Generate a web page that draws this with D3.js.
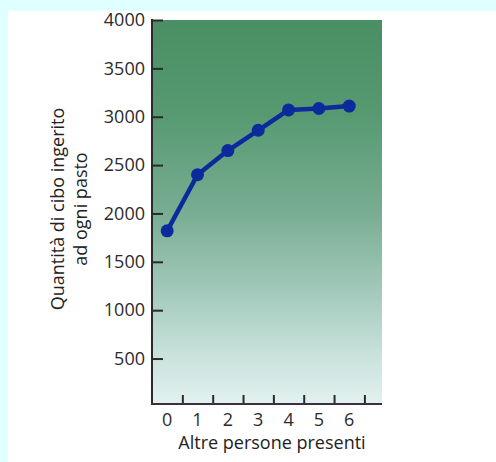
<!DOCTYPE html>
<html><head><meta charset="utf-8">
<script src="https://cdn.jsdelivr.net/npm/d3@7"></script>
<style>
html,body{margin:0;padding:0;background:#e0ffff;}
svg{display:block;}
</style></head>
<body>
<svg id="c" width="496" height="462"></svg>
<script>
const categories = [0, 1, 2, 3, 4, 5, 6];
const values = [1820, 2400, 2650, 2860, 3070, 3085, 3110];
const yTicks = [500, 1000, 1500, 2000, 2500, 3000, 3500, 4000];
const xTickPositions = [0.5, 1.5, 2.5, 3.5, 4.5, 5.5, 6.5];
const yTitle = ["Quantità di cibo ingerito", "ad ogni pasto"];
const xTitle = "Altre persone presenti";

const svg = d3.select("#c");
svg.append("rect").attr("x", 8).attr("y", 11).attr("width", 488).attr("height", 451).attr("fill", "#ffffff");

const x = d3.scaleLinear().domain([-0.5, 7.08]).range([152, 382]);
const y = d3.scaleLinear().domain([30, 4000]).range([404, 20]);

const defs = svg.append("defs");
const g = defs.append("linearGradient").attr("id", "bg").attr("x1", 0).attr("y1", 0).attr("x2", 0).attr("y2", 1);
[[0, "#4a8e64"], [0.25, "#579a72"], [0.5, "#78ad92"], [0.7, "#a1c8ba"], [0.86, "#c6e0da"], [1, "#e2f1ef"]].forEach(s =>
  g.append("stop").attr("offset", s[0]).attr("stop-color", s[1]));

svg.append("rect")
  .attr("x", x(-0.5)).attr("y", y(4000))
  .attr("width", x(7.08) - x(-0.5)).attr("height", y(30) - y(4000))
  .attr("fill", "url(#bg)");

const font = "'Open Sans', 'DejaVu Sans', sans-serif";

// Y axis
const yAxis = svg.append("g").attr("transform", `translate(${x(-0.5)},0)`)
  .call(d3.axisLeft(y).tickValues(yTicks).tickSize(-11).tickPadding(7).tickFormat(d3.format("d")));
yAxis.select(".domain").remove();
yAxis.selectAll(".tick line").attr("stroke", "#2a2a2a").attr("stroke-width", 2);
yAxis.selectAll(".tick text").attr("font-family", font).attr("font-size", 18).attr("fill", "#2b2b2b");
svg.append("line").attr("x1", x(-0.5)).attr("x2", x(-0.5)).attr("y1", y(4000) - 1).attr("y2", y(30) + 1)
  .attr("stroke", "#2a2a2a").attr("stroke-width", 2);

// X axis
const xAxis = svg.append("g").attr("transform", `translate(0,${y(30)})`)
  .call(d3.axisBottom(x).tickValues(xTickPositions).tickSize(-9).tickFormat(""));
xAxis.select(".domain").remove();
xAxis.selectAll(".tick line").attr("stroke", "#2a2a2a").attr("stroke-width", 2);
svg.append("line").attr("x1", x(-0.5) - 1).attr("x2", x(7.08)).attr("y1", y(30)).attr("y2", y(30))
  .attr("stroke", "#3a3040").attr("stroke-width", 2);

svg.append("g").selectAll("text").data(categories).join("text")
  .attr("x", d => x(d)).attr("y", y(30) + 22)
  .attr("text-anchor", "middle").attr("font-family", font).attr("font-size", 18).attr("fill", "#2b2b2b")
  .text(d => d);

// Titles
svg.append("text").attr("x", 272).attr("y", 449).attr("text-anchor", "middle")
  .attr("font-family", font).attr("font-size", 18).attr("fill", "#222").text(xTitle);
const yt = svg.append("text").attr("transform", "translate(58,209) rotate(-90)")
  .attr("text-anchor", "middle").attr("font-family", font).attr("font-size", 18).attr("fill", "#222");
yTitle.forEach((t, i) => yt.append("tspan").attr("x", 0).attr("dy", i === 0 ? 6 : 23).text(t));

// Line + points
const line = d3.line().x((d, i) => x(categories[i])).y(d => y(d));
svg.append("path").datum(values).attr("d", line).attr("fill", "none")
  .attr("stroke", "#0b2a9c").attr("stroke-width", 4.5).attr("stroke-linejoin", "round");
svg.append("g").selectAll("circle").data(values).join("circle")
  .attr("cx", (d, i) => x(categories[i])).attr("cy", d => y(d)).attr("r", 6.5).attr("fill", "#0b2a9c");
</script>
</body></html>
